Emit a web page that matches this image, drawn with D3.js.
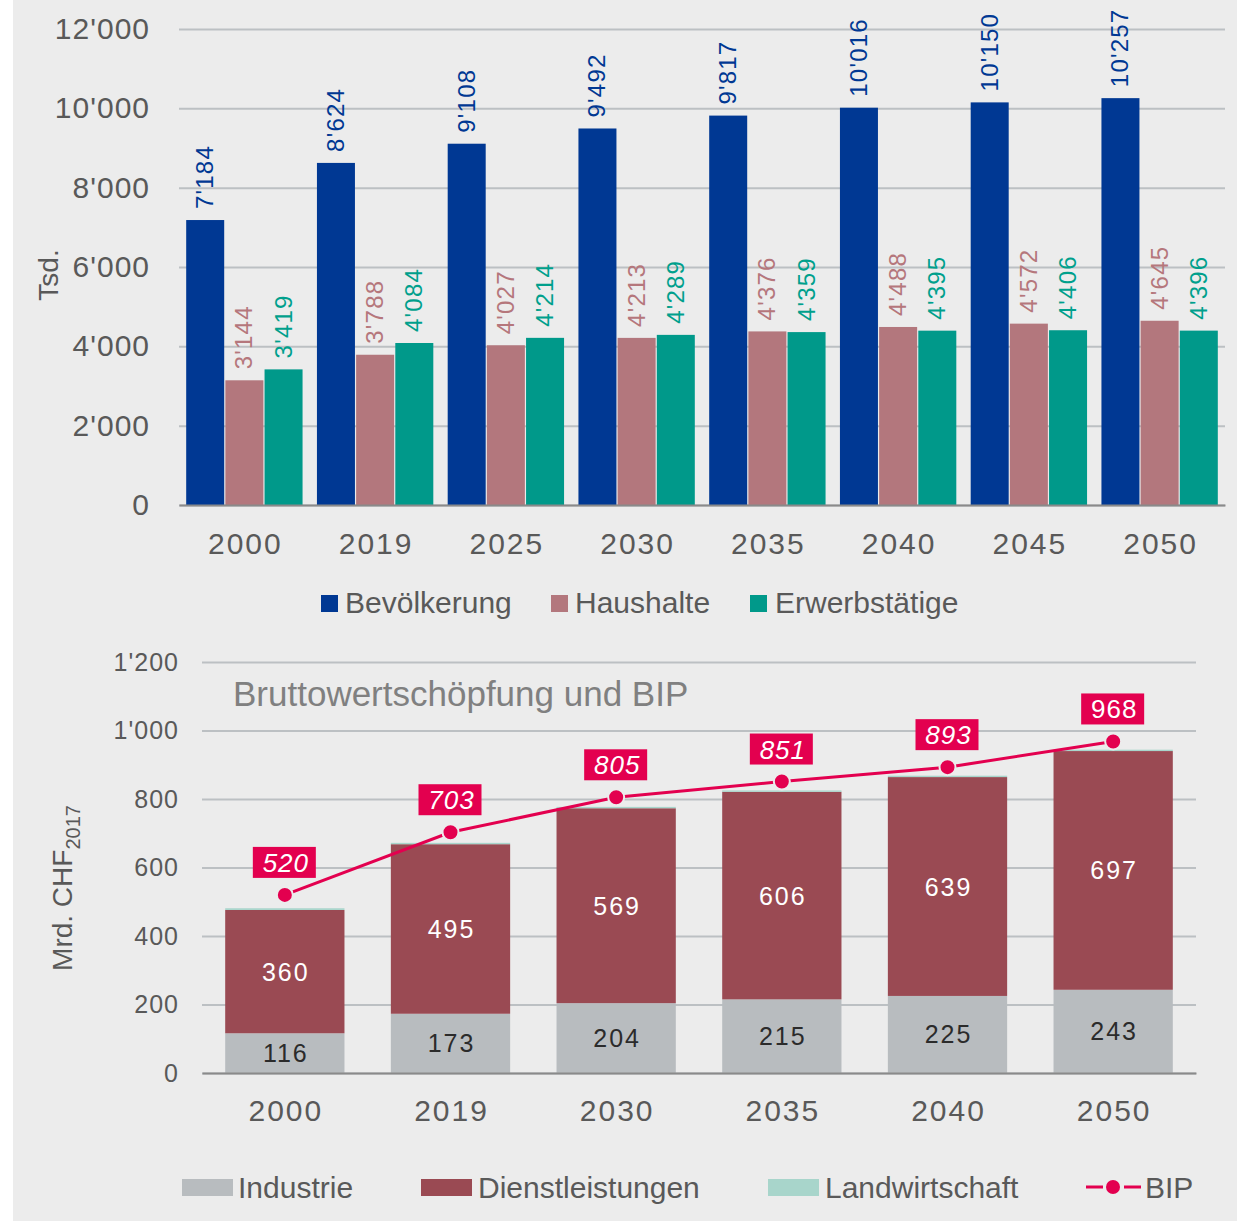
<!DOCTYPE html>
<html>
<head>
<meta charset="utf-8">
<script src="https://cdn.jsdelivr.net/npm/d3@7"></script>
<style>
  body { margin: 0; background: #fff; }
  svg { display: block; }
  text { font-family: "Liberation Sans", Arial, sans-serif; }
  .narrow { font-family: "Liberation Sans Narrow", "Liberation Sans", Arial, sans-serif; }
</style>
</head>
<body>
<div id="chart"></div>
<script>
// top chart data (Tsd.)
var years1 = ["2000", "2019", "2025", "2030", "2035", "2040", "2045", "2050"];
var series1 = ["Bevölkerung", "Haushalte", "Erwerbstätige"];
var bevoelkerung = [7184, 8624, 9108, 9492, 9817, 10016, 10150, 10257];
var haushalte = [3144, 3788, 4027, 4213, 4376, 4488, 4572, 4645];
var erwerbstaetige = [3419, 4084, 4214, 4289, 4359, 4395, 4406, 4396];
var ticks1 = [0, 2000, 4000, 6000, 8000, 10000, 12000];

// bottom chart data (Mrd. CHF 2017)
var years2 = ["2000", "2019", "2030", "2035", "2040", "2050"];
var industrie = [116, 173, 204, 215, 225, 243];
var dienstleistungen = [360, 495, 569, 606, 639, 697];
var landwirtschaft = [5, 4, 4, 4, 4, 4];
var bip = [520, 703, 805, 851, 893, 968];
var ticks2 = [0, 200, 400, 600, 800, 1000, 1200];

var W = 1237, H = 1221;
var fmt = function(v) {
  var s = String(v);
  return s.length > 3 ? s.slice(0, s.length - 3) + "'" + s.slice(-3) : s;
};

var svg = d3.select("#chart").append("svg").attr("width", W).attr("height", H);
svg.append("rect").attr("x", 13).attr("y", 0).attr("width", W - 13).attr("height", H).attr("fill", "#ececec");

/* ---------- top chart ---------- */
var colors1 = ["#003893", "#b3777d", "#00998a"];
var labelColors1 = ["#003893", "#b5777c", "#00a08c"];
var vals1 = [bevoelkerung, haushalte, erwerbstaetige];

var y1 = d3.scaleLinear().domain([0, 12000]).range([505, 29]);
var x0 = d3.scaleBand().domain(years1).range([179, 1225]).paddingInner(0.11).paddingOuter(0.055);
var x1 = d3.scaleBand().domain(series1).range([0, x0.bandwidth()]).paddingInner(0.03);

var g1 = svg.append("g");
g1.append("g")
  .attr("transform", "translate(179,0)")
  .call(d3.axisLeft(y1).tickValues(ticks1).tickSize(-1046).tickFormat(fmt))
  .call(function(a) {
    a.select(".domain").remove();
    a.selectAll(".tick line").attr("stroke", "#bcc0c3").attr("stroke-width", 2);
    a.selectAll(".tick text").attr("x", -29).attr("fill", "#595959")
      .style("font-size", "30px").style("letter-spacing", "1px");
  });

years1.forEach(function(yr, i) {
  series1.forEach(function(s, j) {
    var v = vals1[j][i];
    var bx = x0(yr) + x1(s);
    g1.append("rect")
      .attr("x", bx).attr("y", y1(v))
      .attr("width", x1.bandwidth()).attr("height", y1(0) - y1(v))
      .attr("fill", colors1[j]);
    g1.append("text")
      .attr("transform", "translate(" + (bx + x1.bandwidth() / 2 + 8) + "," + (y1(v) - 11) + ") rotate(-90)")
      .attr("fill", labelColors1[j])
      .style("font-size", "24px").style("letter-spacing", "1.2px")
      .text(fmt(v));
  });
});

g1.append("g")
  .attr("transform", "translate(0,505)")
  .call(d3.axisBottom(x0).tickSize(0).tickPadding(28))
  .call(function(a) {
    a.select(".domain").attr("stroke", "#8a8a8a").attr("stroke-width", 2);
    a.selectAll(".tick text").attr("fill", "#595959").attr("dx", 1)
      .style("font-size", "30px").style("letter-spacing", "2px");
  });

svg.append("text")
  .attr("transform", "translate(58,275) rotate(-90)")
  .attr("text-anchor", "middle")
  .attr("fill", "#595959").style("font-size", "28px")
  .text("Tsd.");

var leg1 = [[321, 345], [551, 575], [750, 775]];
series1.forEach(function(s, j) {
  svg.append("rect").attr("x", leg1[j][0]).attr("y", 595).attr("width", 17).attr("height", 17).attr("fill", colors1[j]);
  svg.append("text").attr("class", "narrow").attr("x", leg1[j][1]).attr("y", 613)
    .attr("fill", "#595959").style("font-size", "30px").text(s);
});

/* ---------- bottom chart ---------- */
var colInd = "#b8bcbf", colDienst = "#9a4a53", colLand = "#a8d5cb", colBip = "#e3004f";

var y2 = d3.scaleLinear().domain([0, 1200]).range([1073, 662]);
var xb = d3.scaleBand().domain(years2).range([202, 1196]).paddingInner(0.28).paddingOuter(0.14);

var g2 = svg.append("g");
g2.append("g")
  .attr("transform", "translate(202,0)")
  .call(d3.axisLeft(y2).tickValues(ticks2).tickSize(-994).tickFormat(fmt))
  .call(function(a) {
    a.select(".domain").remove();
    a.selectAll(".tick line").attr("stroke", "#bcc0c3").attr("stroke-width", 2);
    a.selectAll(".tick text").attr("x", -23).attr("fill", "#595959")
      .style("font-size", "25px").style("letter-spacing", "1px");
  });

g2.append("text").attr("x", 233).attr("y", 706).attr("fill", "#808080").style("font-size", "35px")
  .text("Bruttowertschöpfung und BIP");

var stackData = years2.map(function(yr, i) {
  return { year: yr, Industrie: industrie[i], Dienstleistungen: dienstleistungen[i], Landwirtschaft: landwirtschaft[i] };
});
var stack = d3.stack().keys(["Industrie", "Dienstleistungen", "Landwirtschaft"])(stackData);
var stackColors = [colInd, colDienst, colLand];

stack.forEach(function(layer, k) {
  g2.append("g").selectAll("rect").data(layer).enter().append("rect")
    .attr("x", function(d) { return xb(d.data.year); })
    .attr("y", function(d) { return y2(d[1]); })
    .attr("width", xb.bandwidth())
    .attr("height", function(d) { return y2(d[0]) - y2(d[1]); })
    .attr("fill", stackColors[k]);
  if (k < 2) {
    g2.append("g").selectAll("text").data(layer).enter().append("text")
      .attr("x", function(d) { return xb(d.data.year) + xb.bandwidth() / 2 + 1; })
      .attr("y", function(d) { return (y2(d[0]) + y2(d[1])) / 2 + 9; })
      .attr("text-anchor", "middle")
      .attr("fill", k == 0 ? "#2b2b2b" : "#ffffff")
      .style("font-size", "25px").style("letter-spacing", "2px")
      .text(function(d) { return d[1] - d[0]; });
  }
});

g2.append("g")
  .attr("transform", "translate(0,1073)")
  .call(d3.axisBottom(xb).tickSize(0).tickPadding(27))
  .call(function(a) {
    a.select(".domain").attr("stroke", "#8a8a8a").attr("stroke-width", 2);
    a.selectAll(".tick text").attr("fill", "#595959").attr("dx", 1)
      .style("font-size", "30px").style("letter-spacing", "2px");
  });

var line = d3.line()
  .x(function(d, i) { return xb(years2[i]) + xb.bandwidth() / 2; })
  .y(function(d) { return y2(d); });
g2.append("path").datum(bip).attr("d", line).attr("fill", "none").attr("stroke", colBip).attr("stroke-width", 3);

bip.forEach(function(v, i) {
  var cx = xb(years2[i]) + xb.bandwidth() / 2, cy = y2(v);
  g2.append("circle").attr("cx", cx).attr("cy", cy).attr("r", 8)
    .attr("fill", colBip).attr("stroke", "#ececec").attr("stroke-width", 2);
  g2.append("rect").attr("x", cx - 32).attr("y", cy - 48).attr("width", 63).attr("height", 31).attr("fill", colBip);
  g2.append("text").attr("x", cx + 1).attr("y", cy - 23).attr("text-anchor", "middle")
    .attr("fill", "#ffffff").style("font-size", "26px").style("letter-spacing", "1px")
    .style("font-style", i == bip.length - 1 ? "normal" : "italic")
    .text(v);
});

var yl = svg.append("text")
  .attr("transform", "translate(72,888) rotate(-90)")
  .attr("text-anchor", "middle")
  .attr("fill", "#595959").style("font-size", "28px");
yl.append("tspan").text("Mrd. CHF");
yl.append("tspan").attr("dy", 8).style("font-size", "20px").text("2017");

var leg2 = [
  { name: "Industrie", color: colInd, x: 182, tx: 238 },
  { name: "Dienstleistungen", color: colDienst, x: 421, tx: 478 },
  { name: "Landwirtschaft", color: colLand, x: 768, tx: 825 }
];
leg2.forEach(function(l) {
  svg.append("rect").attr("x", l.x).attr("y", 1179).attr("width", 51).attr("height", 17).attr("fill", l.color);
  svg.append("text").attr("class", "narrow").attr("x", l.tx).attr("y", 1198)
    .attr("fill", "#595959").style("font-size", "30px").text(l.name);
});
svg.append("line").attr("x1", 1086).attr("x2", 1103).attr("y1", 1187).attr("y2", 1187).attr("stroke", colBip).attr("stroke-width", 3);
svg.append("line").attr("x1", 1124).attr("x2", 1141).attr("y1", 1187).attr("y2", 1187).attr("stroke", colBip).attr("stroke-width", 3);
svg.append("circle").attr("cx", 1113).attr("cy", 1187).attr("r", 7).attr("fill", colBip);
svg.append("text").attr("class", "narrow").attr("x", 1145).attr("y", 1198)
  .attr("fill", "#595959").style("font-size", "30px").text("BIP");
</script>
</body>
</html>
